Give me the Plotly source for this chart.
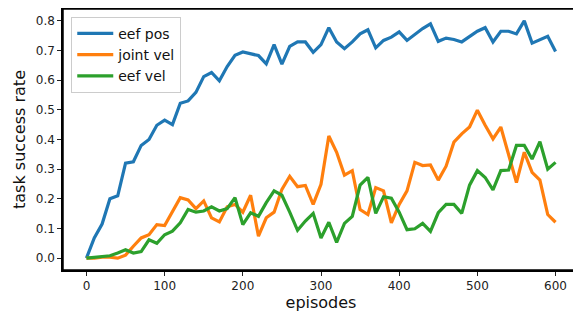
import plotly.graph_objects as go

episodes = list(range(0, 610, 10))

eef_pos = [0.0, 0.068, 0.115, 0.20, 0.21, 0.32, 0.325, 0.38, 0.40, 0.448,
           0.465, 0.45, 0.522, 0.53, 0.559, 0.612, 0.626, 0.598, 0.646, 0.684,
           0.695, 0.69, 0.683, 0.655, 0.72, 0.654, 0.714, 0.729, 0.729, 0.694,
           0.72, 0.777, 0.729, 0.706, 0.729, 0.756, 0.77, 0.709, 0.734, 0.745,
           0.763, 0.734, 0.754, 0.774, 0.79, 0.731, 0.742, 0.737, 0.729, 0.748,
           0.765, 0.777, 0.729, 0.765, 0.765, 0.756, 0.80, 0.725, 0.737, 0.748,
           0.697]

joint_vel = [0.0, 0.0, 0.003, 0.003, 0.0, 0.01, 0.04, 0.068, 0.079, 0.113,
             0.11, 0.159, 0.204, 0.196, 0.167, 0.193, 0.136, 0.122, 0.173, 0.181,
             0.155, 0.212, 0.074, 0.136, 0.155, 0.232, 0.276, 0.241, 0.245, 0.181,
             0.249, 0.412, 0.357, 0.28, 0.295, 0.164, 0.147, 0.238, 0.227, 0.119,
             0.181, 0.227, 0.323, 0.312, 0.314, 0.263, 0.31, 0.391, 0.419, 0.442,
             0.499, 0.448, 0.402, 0.442, 0.351, 0.255, 0.357, 0.289, 0.263, 0.147,
             0.121]

eef_vel = [0.0, 0.003, 0.005, 0.008, 0.017, 0.028, 0.017, 0.022, 0.062, 0.05,
           0.079, 0.091, 0.119, 0.164, 0.155, 0.159, 0.173, 0.159, 0.167, 0.204,
           0.113, 0.153, 0.141, 0.187, 0.227, 0.212, 0.155, 0.094, 0.125, 0.151,
           0.068, 0.121, 0.053, 0.117, 0.141, 0.246, 0.272, 0.151, 0.207, 0.202,
           0.155, 0.096, 0.099, 0.117, 0.09, 0.153, 0.181, 0.181, 0.151, 0.246,
           0.295, 0.272, 0.23, 0.295, 0.297, 0.38, 0.38, 0.334, 0.393, 0.30,
           0.323]

series = [("eef pos", eef_pos, "#1f77b4"),
          ("joint vel", joint_vel, "#ff7f0e"),
          ("eef vel", eef_vel, "#2ca02c")]

x_ticks = [0, 100, 200, 300, 400, 500, 600]
y_ticks = [0.0, 0.1, 0.2, 0.3, 0.4, 0.5, 0.6, 0.7, 0.8]

fig = go.Figure()
for name, vals, color in series:
    fig.add_trace(go.Scatter(x=episodes, y=vals, mode="lines", name=name,
                             line=dict(color=color, width=3.2)))

axis_common = dict(showline=True, mirror=True, linecolor="#000", linewidth=1.5,
                   ticks="outside", ticklen=4, tickcolor="#222", tickwidth=1,
                   showgrid=False, zeroline=False, automargin=False,
                   tickfont=dict(size=12, color="#222"))

# the page body adds an 8px offset, so the figure is 8px smaller
fig.update_layout(
    width=573, height=306,
    margin=dict(l=55, r=2, t=1, b=44),
    paper_bgcolor="white", plot_bgcolor="white",
    font=dict(family="DejaVu Sans", color="#111"),
    xaxis=dict(range=[-30, 630], tickvals=x_ticks,
               title=dict(text="episodes", font=dict(size=16), standoff=4),
               **axis_common),
    yaxis=dict(range=[-0.04, 0.84], tickvals=y_ticks, tickformat=".1f",
               title=dict(text="task success rate", font=dict(size=16), standoff=6),
               **axis_common),
    legend=dict(x=0.016, y=0.97, xanchor="left", yanchor="top",
                bgcolor="rgba(255,255,255,0.8)", bordercolor="#cccccc",
                borderwidth=1, font=dict(size=14, color="#111"),
                itemwidth=36, tracegroupgap=0),
    showlegend=True,
)

# frame around the plotting area (all four spines)
fig.add_shape(type="rect", xref="paper", yref="paper", x0=0, y0=0, x1=1, y1=1,
              line=dict(color="#000", width=1.5), layer="above")

fig.write_html("out.html")
